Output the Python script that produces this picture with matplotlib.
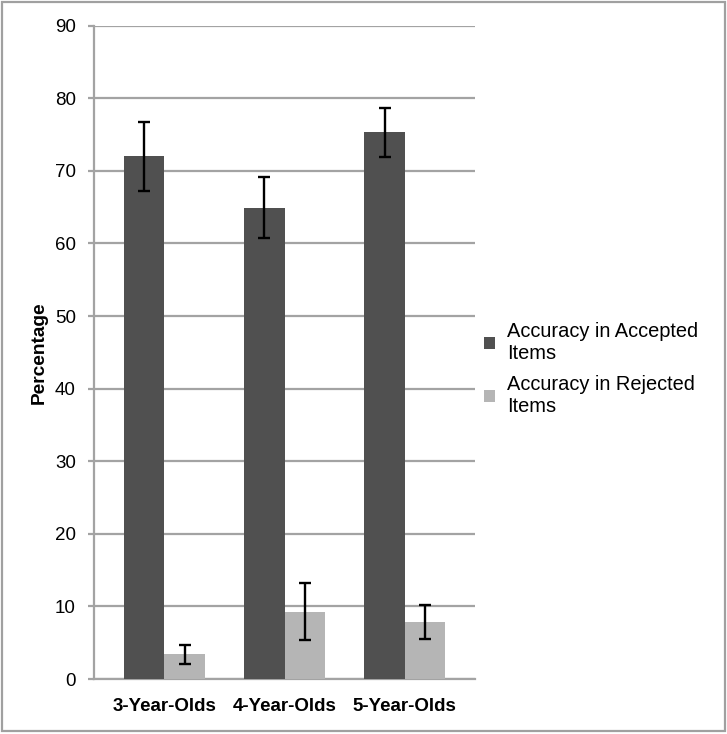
import numpy as np
import matplotlib
matplotlib.use('Agg')
import matplotlib.pyplot as plt
from matplotlib.patches import Rectangle

plt.rcParams['font.family'] = ['Liberation Sans', 'DejaVu Sans']

# data
groups = ['3-Year-Olds', '4-Year-Olds', '5-Year-Olds']
series_names = ['Accuracy in Accepted\nItems', 'Accuracy in Rejected\nItems']
accepted = [72.0, 64.9, 75.3]
accepted_err = [4.8, 4.2, 3.4]
rejected = [3.4, 9.3, 7.8]
rejected_err = [1.35, 3.95, 2.35]
yticks = [0, 10, 20, 30, 40, 50, 60, 70, 80, 90]

dark = '#505050'
light = '#b5b5b5'
grid = '#a3a3a3'

fig = plt.figure(figsize=(7.27, 7.34), dpi=100)
ax = fig.add_axes([0.1293, 0.0749, 0.5241, 0.8901])

x = np.arange(len(groups))
w = 0.336
b1 = ax.bar(x - w / 2, accepted, w, color=dark, zorder=3,
            label=series_names[0])
b2 = ax.bar(x + w / 2, rejected, w, color=light, zorder=3,
            label=series_names[1])
ax.errorbar(x - w / 2, accepted, yerr=accepted_err, fmt='none',
            ecolor='black', elinewidth=1.7, capsize=4, capthick=1.7, zorder=4)
ax.errorbar(x + w / 2, rejected, yerr=rejected_err, fmt='none',
            ecolor='black', elinewidth=1.7, capsize=4, capthick=1.7, zorder=4)

ax.set_xlim(-0.585, 2.585)
ax.set_ylim(0, 90)
ax.set_yticks(yticks)
ax.set_xticks(x)
ax.set_xticklabels(groups, fontweight='bold', fontsize=13.5)
ax.yaxis.grid(True, color=grid, linewidth=1.6, zorder=0)
ax.set_axisbelow(True)

for s in ['top', 'right']:
    ax.spines[s].set_visible(False)
ax.spines['left'].set_color(grid)
ax.spines['left'].set_linewidth(1.6)
ax.spines['bottom'].set_color(grid)
ax.spines['bottom'].set_linewidth(1.6)
ax.tick_params(axis='y', length=4, width=1.6, color=grid, pad=9, labelsize=13.5)
ax.tick_params(axis='x', length=0, pad=14)

ax.set_ylabel('Percentage', fontweight='bold', fontsize=13.8, labelpad=5)

leg = fig.legend(handles=[b1, b2], loc='center left',
                 bbox_to_anchor=(0.652, 0.497), frameon=False, fontsize=14.4,
                 handlelength=0.55, handleheight=0.55, handletextpad=0.6,
                 labelspacing=0.6, borderpad=0)

# outer border of the chart
fig.patches.append(Rectangle((0.003, 0.004), 0.994, 0.993, transform=fig.transFigure,
                             fill=False, edgecolor='#a0a0a0', linewidth=1.6))

fig.savefig('out.png', dpi=100)
